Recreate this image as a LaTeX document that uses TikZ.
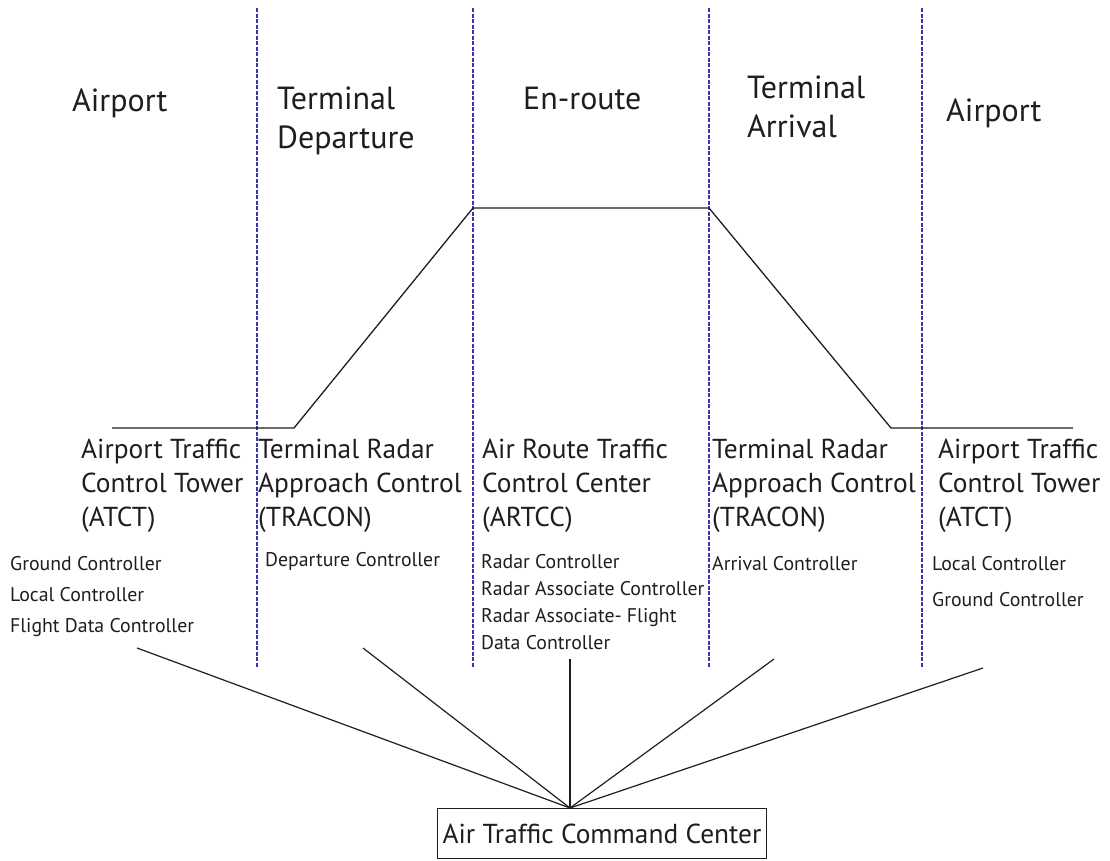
\documentclass[tikz,border=0pt]{standalone}
\usepackage{fontspec}
\setmainfont{PT Sans}
\definecolor{zoneblue}{RGB}{55,55,175}
\definecolor{ink}{RGB}{30,30,30}
\begin{document}
\begin{tikzpicture}[x=1pt,y=-1pt,
  zoneline/.style={zoneblue,line width=1.1pt,dash pattern=on 4pt off 1.5pt},
  flight/.style={ink,line width=1.3pt},
  link/.style={ink,line width=1.2pt},
  phase/.style={inner sep=0pt,anchor=north west,align=left,text=ink,font=\fontsize{32}{39}\selectfont},
  facility/.style={inner sep=0pt,anchor=north west,align=left,text=ink,font=\fontsize{27.4}{34}\selectfont},
  roles/.style={inner sep=0pt,anchor=north west,align=left,text=ink},
  center/.style={draw=ink,line width=1pt,anchor=north west,minimum width=329pt,minimum height=50pt,inner sep=0pt,text=ink,font=\fontsize{27.4}{30}\selectfont}]
\useasboundingbox (0,0) rectangle (1110,860);

% zone boundaries
\foreach \x in {257,473,709,922}
  \draw[zoneline] (\x,8) -- (\x,667);

% flight profile
\coordinate (p0) at (112,428);
\coordinate (p1) at (294,428);
\coordinate (p2) at (473,208);
\coordinate (p3) at (709,208);
\coordinate (p4) at (891,428);
\coordinate (p5) at (1073,428);
\draw[flight,line join=miter] (p0) -- (p1) -- (p2) -- (p3) -- (p4) -- (p5);

% flight phases
\node[phase] (ph1) at (72,89) {Airport};
\node[phase] (ph2) at (277,87) {Terminal\\Departure};
\node[phase] (ph3) at (523,87) {En-route};
\node[phase] (ph4) at (747,76) {Terminal\\Arrival};
\node[phase] (ph5) at (946,99) {Airport};

% facilities
\node[facility] (f1) at (81,439) {Airport Traffic\\Control Tower\\(ATCT)};
\node[facility] (f2) at (258,439) {Terminal Radar\\Approach Control\\(TRACON)};
\node[facility] (f3) at (482,439) {Air Route Traffic\\Control Center\\(ARTCC)};
\node[facility] (f4) at (712,439) {Terminal Radar\\Approach Control\\(TRACON)};
\node[facility] (f5) at (938,439) {Airport Traffic\\Control Tower\\(ATCT)};

% controller positions
\node[roles,font=\fontsize{19.8}{31}\selectfont] (r1) at (10,556) {Ground Controller\\Local Controller\\Flight Data Controller};
\node[roles,font=\fontsize{19.8}{27}\selectfont] (r2) at (265,552) {Departure Controller};
\node[roles,font=\fontsize{19.8}{27}\selectfont] (r3) at (481,554) {Radar Controller\\Radar Associate Controller\\Radar Associate- Flight\\Data Controller};
\node[roles,font=\fontsize{19.8}{27}\selectfont] (r4) at (712,556) {Arrival Controller};
\node[roles,font=\fontsize{19.8}{36}\selectfont] (r5) at (932,556) {Local Controller\\Ground Controller};

% command center and its links
\node[center] (cc) at (437,808) {Air Traffic Command Center};
\coordinate (hub) at ([xshift=133pt]cc.north west);
\coordinate (l1) at (137,648);
\coordinate (l2) at (363,648);
\coordinate (l3) at (570,659);
\coordinate (l4) at (774,659);
\coordinate (l5) at (983,668);
\foreach \c in {l1,l2,l3,l4,l5}
  \draw[link] (\c) -- (hub);
\end{tikzpicture}
\end{document}
